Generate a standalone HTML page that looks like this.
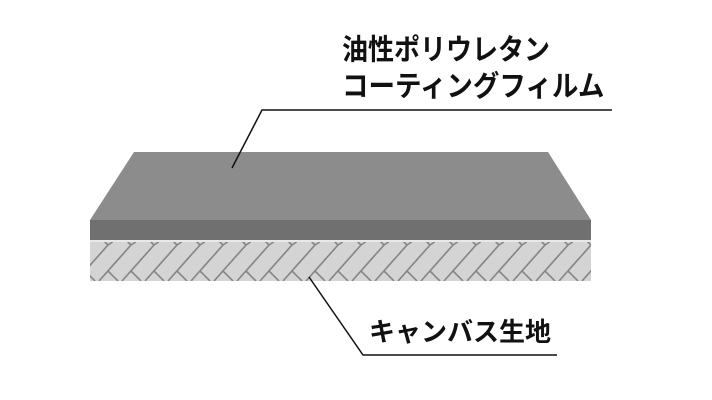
<!DOCTYPE html>
<html><head><meta charset="utf-8"><style>
html,body{margin:0;padding:0;background:#fff;}
body{width:712px;height:400px;overflow:hidden;position:relative;font-family:"Liberation Sans","Noto Sans CJK JP",sans-serif;}
.t{position:absolute;font-weight:bold;color:#111;white-space:nowrap;line-height:1;transform-origin:0 0;}
</style></head><body>
<svg width="712" height="400" style="position:absolute;left:0;top:0">
<defs>
<pattern id="p" x="90" y="240" width="23" height="41" patternUnits="userSpaceOnUse">
<rect width="23" height="41" fill="#d4d4d4"/>
<g stroke="#858585" stroke-width="1.6" fill="none">
<path d="M-14,41 L18,5 L14,1 M18,5 L24,1"/>
<path d="M9,41 L41,5"/>
<path d="M-5,31 L5,41"/>
<path d="M18,31 L28,41"/>
</g>
</pattern>
</defs>
<rect x="90" y="240" width="501" height="41" fill="url(#p)"/>
<rect x="90" y="240" width="501" height="2" fill="#e8e8e8"/>
<polygon points="134,152 548,152 591,220 90,220" fill="#8c8c8c"/>
<rect x="90" y="220" width="501" height="20" fill="#707070"/>
<polyline points="232,168 262,110 612,110" fill="none" stroke="#111" stroke-width="1.5"/>
<polyline points="309,277 363,355 557,355" fill="none" stroke="#111" stroke-width="1.5"/>
</svg>
<div class="t" style="left:342px;top:35px;font-size:26px;transform:scaleY(1.12);">油性ポリウレタン</div>
<div class="t" style="left:342px;top:72px;font-size:26.5px;transform:scaleY(1.1);">コーティングフィルム</div>
<div class="t" style="left:369px;top:319px;font-size:26px;">キャンバス生地</div>
</body></html>
